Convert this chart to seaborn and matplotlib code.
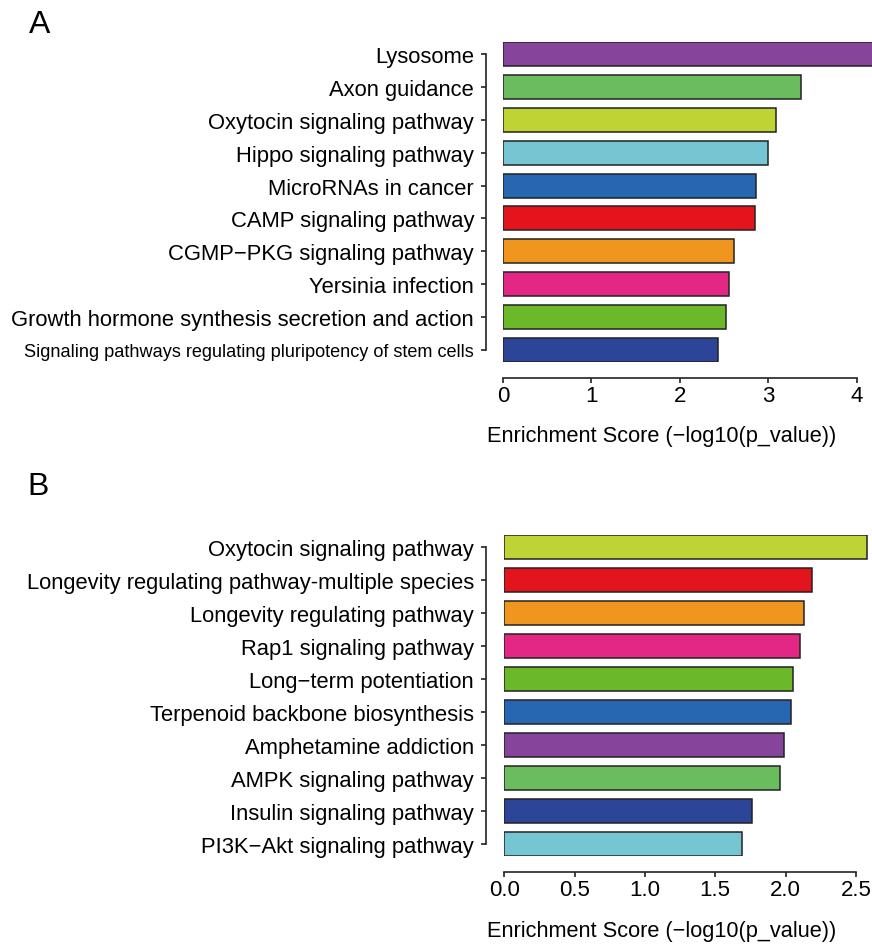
import pandas as pd
import matplotlib
matplotlib.use('Agg')
import matplotlib.pyplot as plt
import seaborn as sns

# Panel A data
pathways_a = ['Lysosome', 'Axon guidance', 'Oxytocin signaling pathway',
              'Hippo signaling pathway', 'MicroRNAs in cancer',
              'CAMP signaling pathway', 'CGMP\u2212PKG signaling pathway',
              'Yersinia infection', 'Growth hormone synthesis secretion and action',
              'Signaling pathways regulating pluripotency of stem cells']
scores_a = [4.40, 3.37, 3.09, 2.99, 2.86, 2.85, 2.61, 2.55, 2.52, 2.43]
colors_a = ['#86449A', '#6BBB5F', '#BFD434', '#75C5D3', '#2767B1',
            '#E3141B', '#F0961E', '#E32784', '#6BB82A', '#2C4599']

# Panel B data
pathways_b = ['Oxytocin signaling pathway',
              'Longevity regulating pathway-multiple species',
              'Longevity regulating pathway', 'Rap1 signaling pathway',
              'Long\u2212term potentiation', 'Terpenoid backbone biosynthesis',
              'Amphetamine addiction', 'AMPK signaling pathway',
              'Insulin signaling pathway', 'PI3K\u2212Akt signaling pathway']
scores_b = [2.58, 2.19, 2.13, 2.10, 2.05, 2.04, 1.99, 1.96, 1.76, 1.69]
colors_b = ['#BFD434', '#E3141B', '#F0961E', '#E32784', '#6BB82A',
            '#2767B1', '#86449A', '#6BBB5F', '#2C4599', '#75C5D3']

sns.set_style('white')
plt.rcParams['font.family'] = ['Liberation Sans', 'DejaVu Sans']
plt.rcParams['text.color'] = 'black'

PX = 0.72  # points per pixel at dpi 100

fig = plt.figure(figsize=(8.72, 9.45), dpi=100)
ax_a = fig.add_axes([0.5768, 0.6159, 0.4232, 0.3386])
ax_b = fig.add_axes([0.5783, 0.0931, 0.4217, 0.3397])


def draw_panel(ax, names, scores, colors, xmax, ticks, ticklabels, yoff, xoff):
    df = pd.DataFrame({'pathway': names, 'score': scores})
    sns.barplot(data=df, x='score', y='pathway', hue='pathway', palette=colors,
                legend=False, orient='h', width=0.73, saturation=1,
                edgecolor='#222222', linewidth=1.1, ax=ax)
    ax.set_xlim(0, xmax)
    ax.set_ylim(len(names) - 1 + 0.37, -0.37)
    ax.set_xlabel('')
    ax.set_ylabel('')
    for s in ['top', 'right']:
        ax.spines[s].set_visible(False)
    ax.spines['left'].set_position(('outward', xoff * PX))
    ax.spines['bottom'].set_position(('outward', yoff * PX))
    ax.spines['left'].set_bounds(0, len(names) - 1)
    ax.spines['bottom'].set_bounds(ticks[0], ticks[-1])
    for s in ['left', 'bottom']:
        ax.spines[s].set_color('#222222')
        ax.spines[s].set_linewidth(1.2)
    ax.set_xticks(ticks)
    ax.set_xticklabels(ticklabels)
    ax.tick_params(axis='both', direction='out', length=5 * PX, width=1.2,
                   color='#222222', labelcolor='black', left=True, bottom=True)
    ax.tick_params(axis='x', labelsize=16, pad=1.5)
    ax.tick_params(axis='y', labelsize=15.8, pad=5)
    ax.grid(False)


draw_panel(ax_a, pathways_a, scores_a, colors_a, 4.17,
           [0, 1, 2, 3, 4], ['0', '1', '2', '3', '4'], 16, 17)
draw_panel(ax_b, pathways_b, scores_b, colors_b, 2.615,
           [0, 0.5, 1.0, 1.5, 2.0, 2.5],
           ['0.0', '0.5', '1.0', '1.5', '2.0', '2.5'], 16, 18.5)

# smaller font for the long last label in panel A
ax_a.get_yticklabels()[-1].set_fontsize(13.1)

fig.text(662 / 872, 1 - 437 / 945, 'Enrichment Score (\u2212log10(p_value))',
         ha='center', va='center', fontsize=15.7)
fig.text(662 / 872, 1 - 932 / 945, 'Enrichment Score (\u2212log10(p_value))',
         ha='center', va='center', fontsize=15.7)
fig.text(40 / 872, 1 - 25 / 945, 'A', ha='center', va='center', fontsize=23)
fig.text(38 / 872, 1 - 487 / 945, 'B', ha='center', va='center', fontsize=23)

fig.savefig('out.png', dpi=100, facecolor='white')
